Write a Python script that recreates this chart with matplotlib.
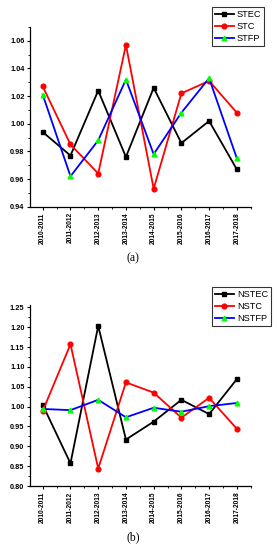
import matplotlib
matplotlib.use("Agg")
import matplotlib.pyplot as plt
from matplotlib.ticker import MultipleLocator

periods = ["2010-2011", "2011-2012", "2012-2013", "2013-2014",
           "2014-2015", "2015-2016", "2016-2017", "2017-2018"]

stec = [0.994, 0.977, 1.024, 0.976, 1.026, 0.986, 1.002, 0.967]
stc = [1.027, 0.985, 0.964, 1.057, 0.953, 1.022, 1.031, 1.008]
stfp = [1.021, 0.962, 0.988, 1.032, 0.978, 1.008, 1.033, 0.975]

nstec = [1.004, 0.857, 1.203, 0.917, 0.962, 1.017, 0.981, 1.069]
nstc = [0.989, 1.157, 0.844, 1.061, 1.035, 0.972, 1.022, 0.944]
nstfp = [0.994, 0.991, 1.017, 0.973, 0.997, 0.987, 1.001, 1.009]

W, H = 278, 550
fig = plt.figure(figsize=(W / 100, H / 100), dpi=100)
plt.rcParams['font.family'] = ['Liberation Sans', 'DejaVu Sans']


def px_axes(left, top, right, bottom):
    return fig.add_axes([left / W, 1 - bottom / H, (right - left) / W, (bottom - top) / H])


def style(ax, ylim, major, minor, fmt):
    x = list(range(len(periods)))
    ax.set_xlim(-0.46, 7.5)
    ax.set_ylim(*ylim)
    ax.set_xticks(x)
    ax.set_xticklabels(periods, rotation=90, fontsize=4.8, fontweight='bold')
    ax.xaxis.set_minor_locator(MultipleLocator(0.5))
    ax.yaxis.set_major_locator(MultipleLocator(major))
    ax.yaxis.set_minor_locator(MultipleLocator(minor))
    ax.yaxis.set_major_formatter(plt.FormatStrFormatter(fmt))
    for lab in ax.get_yticklabels():
        lab.set_fontsize(5.3)
        lab.set_fontweight('bold')
    ax.spines['top'].set_visible(False)
    ax.spines['right'].set_visible(False)
    for s in ('left', 'bottom'):
        ax.spines[s].set_linewidth(0.9)
    ax.tick_params(which='major', direction='out', length=2.5, width=0.8, pad=1.5)
    ax.tick_params(which='minor', direction='out', length=1.5, width=0.6)
    ax.patch.set_alpha(0)


def draw(ax, series, names):
    x = list(range(len(periods)))
    colors = ['black', '#ff0000', '#0000ff']
    markers = ['s', 'o', '^']
    mfc = ['black', '#ff0000', '#00ff00']
    hs = []
    for s, n, c, m, f in zip(series, names, colors, markers, mfc):
        h, = ax.plot(x, s, color=c, lw=1.3, marker=m, markersize=3.4,
                     markerfacecolor=f, markeredgecolor=f, label=n)
        hs.append(h)
    return hs


def legend(handles, top):
    leg = fig.legend(handles=handles, loc='upper left', bbox_to_anchor=(212 / W, 1 - top / H),
                     fontsize=6.6, frameon=True, fancybox=False, edgecolor='black',
                     handlelength=2.1, handletextpad=0.3, borderpad=0.3,
                     labelspacing=0.35, borderaxespad=0)
    leg.get_frame().set_linewidth(0.8)
    return leg


ax1 = px_axes(30, 27, 250.7, 206.7)
h1 = draw(ax1, [stec, stc, stfp], ["STEC", "STC", "STFP"])
style(ax1, (0.94, 1.07), 0.02, 0.01, '%.2f')
legend(h1, 7)
fig.text(133 / W, 1 - 258 / H, "(a)", ha='center', va='center', fontsize=8.5,
         family=['Liberation Serif', 'DejaVu Serif'])

ax2 = px_axes(30, 305.3, 250.7, 486)
h2 = draw(ax2, [nstec, nstc, nstfp], ["NSTEC", "NSTC", "NSTFP"])
style(ax2, (0.80, 1.255), 0.05, 0.025, '%.2f')
legend(h2, 287)
fig.text(133 / W, 1 - 537.7 / H, "(b)", ha='center', va='center', fontsize=8.5,
         family=['Liberation Serif', 'DejaVu Serif'])

fig.savefig("out.png", dpi=100)
